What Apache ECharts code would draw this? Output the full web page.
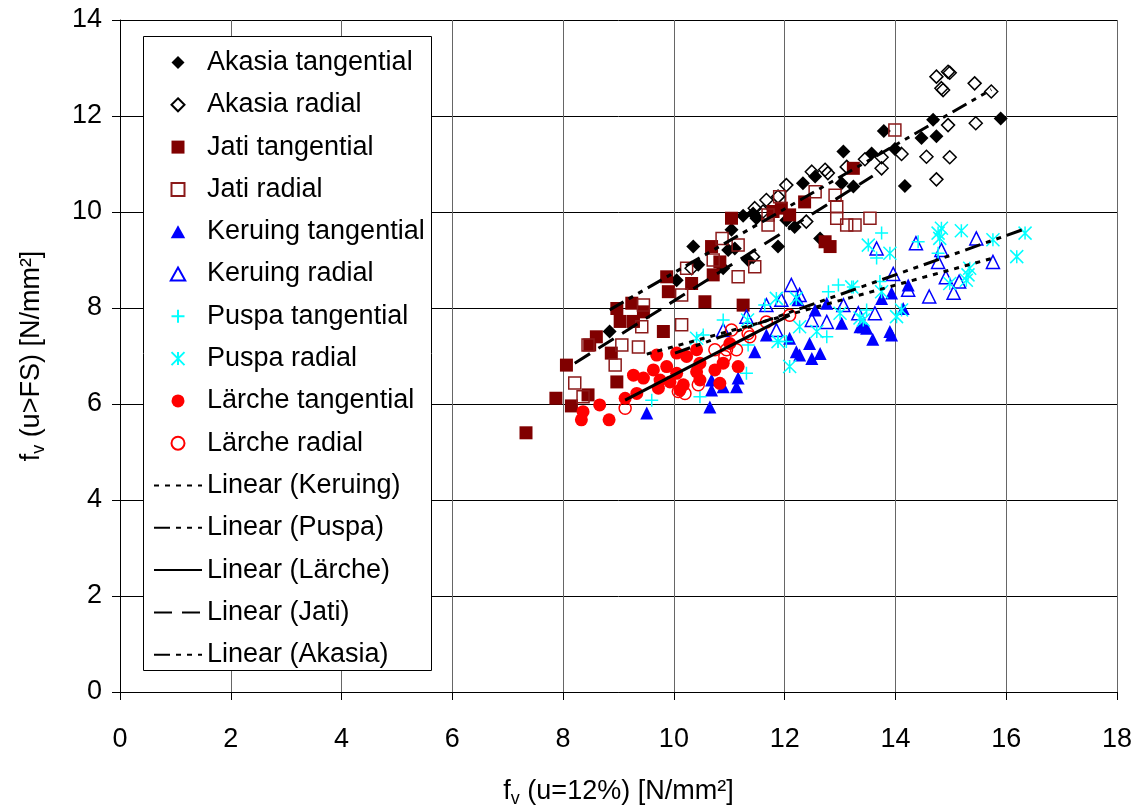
<!DOCTYPE html>
<html>
<head>
<meta charset="utf-8">
<title>fv scatter</title>
<script src="https://cdn.jsdelivr.net/npm/echarts@6/dist/echarts.min.js"></script>
<style>
  html, body { margin: 0; padding: 0; background: #fff; }
  #chart { width: 1135px; height: 805px; }
</style>
</head>
<body>
<div id="chart"></div>
<script>
// [fv (u=12%), fv (u>FS)] in N/mm²
var akasiaTan = [[8.84,7.51],[10.05,8.58],[10.35,9.28],[10.44,8.90],[10.89,8.83],[10.98,9.21],[11.10,9.24],[11.04,9.63],[11.34,9.00],[11.25,9.92],[11.43,9.97],[11.49,9.87],[11.88,9.28],[12.03,9.83],[12.18,9.69],[12.64,9.45],[12.33,10.60],[12.55,10.74],[13.03,10.60],[13.24,10.53],[13.06,11.26],[13.57,11.22],[13.79,11.69],[13.99,11.31],[14.17,10.54],[14.47,11.54],[14.68,11.92],[14.74,11.58],[15.90,11.95]];
var akasiaRad = [[10.32,8.83],[11.43,9.07],[11.46,10.08],[11.61,10.01],[11.67,10.25],[11.88,10.32],[12.03,10.56],[12.39,9.80],[12.49,10.84],[12.73,10.88],[12.78,10.81],[13.12,10.94],[13.45,11.10],[13.75,11.14],[13.75,10.91],[14.11,11.21],[14.56,11.15],[14.74,10.68],[14.98,11.14],[14.95,11.81],[15.45,11.85],[14.83,12.58],[14.86,12.54],[14.74,12.82],[14.95,12.92],[14.98,12.90],[15.43,12.68],[15.73,12.51]];
var jatiTan = [[7.33,5.40],[7.87,6.12],[8.06,6.81],[8.15,5.96],[8.45,6.19],[8.48,7.23],[8.60,7.40],[8.87,7.06],[8.97,7.99],[8.97,6.46],[9.03,7.72],[9.24,8.10],[9.27,7.72],[9.45,7.92],[9.81,7.51],[9.87,8.65],[9.90,8.34],[10.32,8.51],[10.56,8.13],[10.68,9.28],[10.71,8.69],[10.83,8.96],[11.04,9.87],[11.25,8.06],[11.79,10.01],[11.94,10.08],[12.09,9.94],[12.36,10.21],[12.73,9.38],[12.82,9.28],[13.24,10.91]];
var jatiRad = [[8.21,6.44],[8.36,6.15],[8.45,7.23],[8.94,6.81],[9.06,7.23],[9.36,7.19],[9.42,7.61],[9.45,8.06],[10.14,7.65],[10.14,8.27],[10.23,8.83],[10.71,9.00],[10.87,9.45],[11.16,9.31],[11.16,8.65],[11.46,8.86],[11.70,9.73],[11.70,9.94],[11.91,10.32],[12.55,10.42],[12.91,10.35],[12.94,10.11],[12.94,9.87],[13.12,9.73],[13.27,9.73],[13.54,9.87],[13.99,11.71]];
var keruingTan = [[9.51,5.81],[10.65,5.94],[10.68,6.29],[10.68,6.50],[10.89,6.36],[11.13,6.36],[11.16,6.54],[11.46,7.09],[11.67,7.44],[12.09,7.37],[12.21,7.09],[12.27,7.02],[12.45,7.26],[12.49,6.95],[12.64,7.05],[12.24,8.17],[12.55,7.96],[12.76,8.10],[13.03,7.68],[13.36,7.61],[13.48,7.58],[13.59,7.35],[13.90,7.51],[13.93,7.44],[13.75,8.20],[13.93,8.31],[14.14,7.99],[14.23,8.48],[13.42,7.61]];
var keruingRad = [[10.89,7.54],[11.31,7.82],[11.67,8.06],[11.85,7.54],[11.94,8.17],[12.12,8.48],[12.27,8.27],[12.49,7.75],[12.76,7.71],[13.06,8.06],[13.33,7.89],[13.63,7.89],[13.66,9.24],[13.96,8.71],[14.23,8.38],[14.37,9.35],[14.61,8.24],[14.77,8.96],[14.83,9.21],[14.91,8.64],[15.05,8.32],[15.15,8.55],[15.46,9.45],[15.76,8.96]];
var puspaTan = [[9.60,6.08],[10.47,6.15],[10.53,7.44],[10.89,7.75],[11.31,6.64],[11.34,7.23],[11.64,8.06],[11.88,7.30],[12.03,7.30],[12.76,7.40],[12.79,8.34],[12.97,8.48],[13.24,8.44],[13.48,7.96],[13.66,9.04],[13.72,8.55],[13.75,9.56],[14.41,9.38],[14.77,9.14]];
var puspaRad = [[10.41,7.37],[11.33,7.75],[11.85,8.20],[11.88,7.30],[12.09,6.78],[12.21,8.20],[12.27,7.61],[12.58,7.51],[13.00,7.89],[13.21,8.44],[13.36,7.79],[13.42,7.75],[13.51,9.31],[13.75,8.34],[13.90,9.14],[14.02,7.82],[14.11,7.96],[14.77,9.56],[14.80,9.45],[14.83,9.66],[14.98,8.51],[15.19,9.61],[15.28,8.58],[15.31,8.69],[15.34,8.83],[15.76,9.42],[16.19,9.07],[16.34,9.56]];
var larcheTan = [[8.33,5.67],[8.36,5.84],[8.66,5.98],[8.83,5.67],[9.12,6.12],[9.27,6.60],[9.33,6.22],[9.45,6.54],[9.63,6.71],[9.69,7.02],[9.72,6.33],[9.75,6.50],[9.87,6.78],[9.93,6.46],[10.05,7.06],[10.05,6.64],[10.11,6.29],[10.17,6.40],[10.23,6.99],[10.41,7.13],[10.41,6.67],[10.47,6.85],[10.47,6.50],[10.74,6.71],[10.83,6.43],[10.89,6.85],[11.01,7.26],[11.16,6.78]];
var larcheRad = [[9.12,5.91],[10.08,6.26],[10.20,6.22],[10.44,6.40],[10.74,7.13],[10.92,6.99],[10.95,7.13],[11.04,7.54],[11.13,7.13],[11.34,7.47],[11.37,7.40],[11.67,7.71],[12.09,7.85]];

// trend lines, end points
var trendKeruing = [[9.51,7.04],[15.76,9.04]];
var trendPuspa = [[10.02,7.06],[16.34,9.65]];
var trendLarche = [[9.12,6.08],[12.09,7.85]];
var trendJati = [[8.21,6.85],[13.59,10.75]];
var trendAkasia = [[8.84,7.96],[15.73,12.55]];

var FONT = "'Liberation Sans', Arial, sans-serif";

// marker shapes as paths so the legend keeps them square
var SYM = {
    diamond: 'path://M5,0L10,5L5,10L0,5Z',
    square: 'path://M0,0L10,0L10,10L0,10Z',
    triangle: 'path://M5,0L10,9L0,9Z',
    circle: 'path://M0,5A5,5,0,1,1,10,5A5,5,0,1,1,0,5Z',
    plus: 'path://M5,0L5,10M0,5L10,5',
    star: 'path://M0,0L10,10M10,0L0,10M5,0L5,10'
};

function scatter(name, data, symbol, size, fill, stroke, bw) {
    return {
        name: name,
        type: 'scatter',
        data: data,
        symbol: symbol,
        symbolSize: size,
        itemStyle: {
            color: fill,
            borderColor: stroke,
            borderWidth: bw,
            opacity: 1
        }
    };
}

function trend(name, data, dash) {
    return {
        name: name,
        type: 'line',
        data: data,
        symbol: 'none',
        // transparent item colour hides the dot in the legend icon
        itemStyle: { color: 'rgba(0,0,0,0)', borderWidth: 0 },
        lineStyle: {
            color: '#000',
            width: 3,
            type: dash
        }
    };
}

var myChart = echarts.init(document.getElementById('chart'));

var richName = {
    a: { fontSize: 27, color: '#000', fontFamily: FONT },
    b: { fontSize: 18, color: '#000', fontFamily: FONT, padding: [15, 0, 0, 0] }
};

var option = {
    animation: false,
    backgroundColor: '#fff',
    grid: {
        left: 120,
        right: 18,
        top: 20,
        bottom: 113,
        containLabel: false,
        outerBoundsMode: 'none'
    },
    graphic: [{
        type: 'rect',
        z: 3,
        shape: { x: 143.5, y: 36.5, width: 288, height: 634 },
        style: { fill: '#fff', stroke: '#000', lineWidth: 1 }
    }],
    legend: {
        orient: 'vertical',
        left: 153,
        top: 49,
        padding: 0,
        itemWidth: 48,
        itemHeight: 13,
        itemGap: 15.3,
        selectedMode: false,
        textStyle: { fontSize: 27, color: '#000', fontFamily: FONT },
        data: ['Akasia tangential', 'Akasia radial', 'Jati tangential', 'Jati radial',
            'Keruing tangential', 'Keruing radial', 'Puspa tangential', 'Puspa radial',
            'Lärche tangential', 'Lärche radial',
            'Linear (Keruing)', 'Linear (Puspa)', 'Linear (Lärche)', 'Linear (Jati)', 'Linear (Akasia)']
    },
    xAxis: {
        type: 'value',
        min: 0,
        max: 18,
        interval: 2,
        name: '{a|f}{b|v}{a| (u=12%) [N/mm²]}',
        nameLocation: 'middle',
        nameGap: 83,
        nameTextStyle: { rich: richName },
        axisLine: { lineStyle: { color: '#000', width: 1 } },
        axisTick: { show: true, length: 8, lineStyle: { color: '#000' } },
        axisLabel: { margin: 34, fontSize: 27, color: '#000', fontFamily: FONT },
        splitLine: { show: true, lineStyle: { color: '#666', width: 1 } }
    },
    yAxis: {
        type: 'value',
        min: 0,
        max: 14,
        interval: 2,
        name: '{a|f}{b|v}{a| (u>FS) [N/mm²]}',
        nameLocation: 'middle',
        nameGap: 72,
        nameTextStyle: { rich: richName },
        axisLine: { show: true, lineStyle: { color: '#000', width: 1 } },
        axisTick: { show: true, length: 8, lineStyle: { color: '#000' } },
        axisLabel: { margin: 18, fontSize: 27, color: '#000', fontFamily: FONT },
        splitLine: { show: true, lineStyle: { color: '#000', width: 1 } }
    },
    series: [
        scatter('Akasia tangential', akasiaTan, SYM.diamond, 14, '#000', '#000', 0),
        scatter('Akasia radial', akasiaRad, SYM.diamond, 13, 'none', '#000', 1.5),
        scatter('Jati tangential', jatiTan, SYM.square, 13, '#800000', '#800000', 0),
        scatter('Jati radial', jatiRad, SYM.square, 12, 'none', '#8b1a1a', 1.5),
        scatter('Keruing tangential', keruingTan, SYM.triangle, 13, '#0000ff', '#0000ff', 0),
        scatter('Keruing radial', keruingRad, SYM.triangle, 13, 'none', '#0000ff', 1.5),
        scatter('Puspa tangential', puspaTan, SYM.plus, 13, 'none', '#00ffff', 1.5),
        scatter('Puspa radial', puspaRad, SYM.star, 13, 'none', '#00ffff', 1.5),
        scatter('Lärche tangential', larcheTan, SYM.circle, 13, '#ff0000', '#ff0000', 0),
        scatter('Lärche radial', larcheRad, SYM.circle, 12, 'none', '#ff0000', 1.5),
        trend('Linear (Keruing)', trendKeruing, [5, 6]),
        trend('Linear (Puspa)', trendPuspa, [16, 6, 5, 6, 5, 6]),
        trend('Linear (Lärche)', trendLarche, 'solid'),
        trend('Linear (Jati)', trendJati, [18, 10]),
        trend('Linear (Akasia)', trendAkasia, [16, 6, 5, 6, 5, 6])
    ]
};

myChart.setOption(option);
</script>
</body>
</html>
